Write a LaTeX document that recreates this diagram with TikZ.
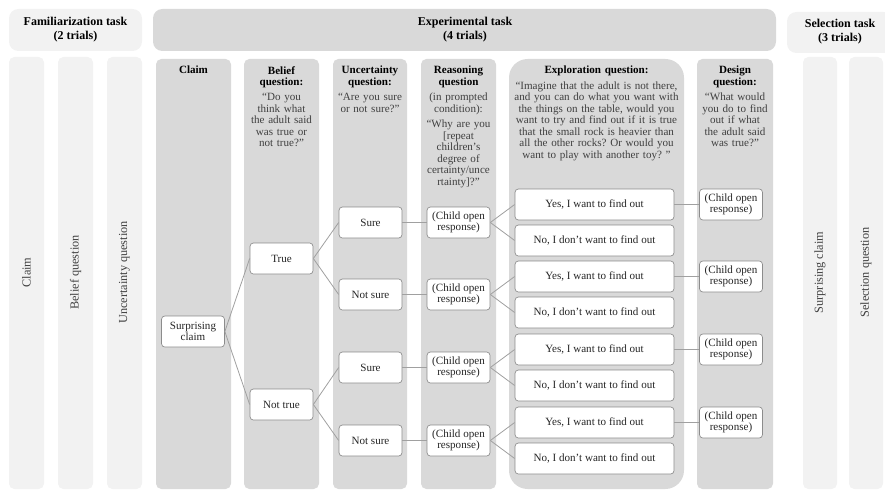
\documentclass[tikz,border=0pt]{standalone}
\usepackage{fontspec}
\setmainfont{Liberation Serif}
\usetikzlibrary{positioning}
\frenchspacing

\definecolor{lightpanel}{HTML}{F2F2F2}
\definecolor{darkpanel}{HTML}{D9D9D9}
\definecolor{boxline}{HTML}{8C8C8C}
\definecolor{linkline}{HTML}{A0A0A0}
\definecolor{quotetext}{HTML}{404040}

\tikzset{
  lightcol/.style={fill=lightpanel, rounded corners=4pt},
  darkcol/.style={fill=darkpanel, rounded corners=4pt},
  taskhead/.style={align=center, inner sep=0pt, font=\bfseries\fontsize{9}{10.5}\selectfont},
  coltext/.style={anchor=north, inner sep=0pt, align=center, text width=#1,
    font=\fontsize{8.3}{8.6}\selectfont},
  sidelabel/.style={rotate=90, inner sep=0pt, text=quotetext, font=\fontsize{9.2}{10}\selectfont},
  answer/.style={draw=boxline, fill=white, rounded corners=2.5pt, line width=0.5pt,
    minimum width=47.25pt, minimum height=23.25pt, align=center, inner sep=1pt,
    text=black!85, font=\fontsize{8.3}{8.2}\selectfont},
  wideanswer/.style={answer, minimum width=119.25pt},
  link/.style={draw=linkline, line width=0.6pt},
}

\begin{document}
\begin{tikzpicture}[x=0.75pt, y=-0.75pt]
        \useasboundingbox (0,0) rectangle (885,492);

        % Task headers
        \fill[lightpanel, rounded corners=7pt] (9,9) rectangle (142,51);
        \fill[darkpanel, rounded corners=7pt] (153,9) rectangle (776,51);
        \fill[lightpanel, rounded corners=7pt] (787,12) rectangle (893,53);
        \node[taskhead] (famhead) at (75.5,30) {Familiarization task\\(2 trials)};
        \node[taskhead] (exphead) at (465,30) {Experimental task\\(4 trials)};
        \node[taskhead] (selhead) at (840,32) {Selection task\\(3 trials)};

        % Familiarization and selection columns
        \fill[lightcol] (9,57) rectangle (44,489);
        \fill[lightcol] (58,57) rectangle (93,489);
        \fill[lightcol] (107,57) rectangle (142,489);
        \fill[lightcol] (803,57) rectangle (837,489);
        \fill[lightcol] (849,57) rectangle (883,489);
        \node[sidelabel] (famclaim) at (26.5,272.5) {Claim};
        \node[sidelabel] (fambelief) at (75.5,272.5) {Belief question};
        \node[sidelabel] (famuncert) at (124.5,272.5) {Uncertainty question};
        \node[sidelabel] (selclaim) at (820,272.5) {Surprising claim};
        \node[sidelabel] (selquest) at (866,272.5) {Selection question};

        % Experimental columns
        \fill[darkcol] (156,59) rectangle (231,489);
        \fill[darkcol] (244,59) rectangle (319,489);
        \fill[darkcol] (333,59) rectangle (407,489);
        \fill[darkcol] (421,59) rectangle (496,489);
        \fill[darkpanel, rounded corners=14pt] (509,59) rectangle (684,489);
        \fill[darkcol] (697,59) rectangle (773,489);

        % Column texts
        \node[coltext=54pt] (claimtxt) at (193.5,66) {\textbf{Claim}};
        \node[coltext=56pt] (belieftxt) at (281.5,66) {\textbf{Belief}\\\textbf{question:}\\[3pt]
          \color{quotetext}“Do you\\think what\\the adult said\\was true or\\not true?”};
        \node[coltext=56pt] (uncerttxt) at (370,66) {\textbf{Uncertainty}\\\textbf{question:}\\[3pt]
          \color{quotetext}“Are you sure\\or not sure?”};
        \node[coltext=56pt] (reasontxt) at (458.5,66) {\textbf{Reasoning}\\\textbf{question}\\[3pt]
          \color{quotetext}(in prompted\\condition):\\[3pt]“Why are you\\{[}repeat\\children’s\\degree of\\certainty/unce\\rtainty]?”};
        \node[coltext=130pt] (exploretxt) at (596.5,66) {\textbf{Exploration question:}\\[3pt]
          \color{quotetext}“Imagine that the adult is not there,\\and you can do what you want with\\the things on the table, would you\\want to try and find out if it is true\\that the small rock is heavier than\\all the other rocks? Or would you\\want to play with another toy? ”};
        \node[coltext=57pt] (designtxt) at (735,66) {\textbf{Design}\\\textbf{question:}\\[3pt]
          \color{quotetext}“What would\\you do to find\\out if what\\the adult said\\was true?”};

        % Claim and belief
        \node[answer] (claim) at (193,331.5) {Surprising\\claim};
        \node[answer] (true) at (281.5,258.5) {True};
        \node[answer] (nottrue) at (281.5,404.5) {Not true};
        \draw[link] (claim.east) -- (true.west);
        \draw[link] (claim.east) -- (nottrue.west);

        % Certainty, reasoning, exploration and design branches
        \foreach \n/\ans/\yy in {1/Sure/222.5, 2/Not sure/294.5, 3/Sure/367.5, 4/Not sure/440.5} {
          \node[answer] (cert\n) at (370.5,\yy) {\ans};
          \node[answer] (open\n) at (458.5,\yy) {(Child open\\response)};
          \node[wideanswer] (yes\n) at (594.5,\yy-18) {Yes, I want to find out};
          \node[wideanswer] (no\n) at (594.5,\yy+18) {No, I don’t want to find out};
          \node[answer] (design\n) at (731,\yy-18) {(Child open\\response)};
          \draw[link] (cert\n.east) -- (open\n.west);
          \draw[link] (open\n.east) -- (yes\n.west);
          \draw[link] (open\n.east) -- (no\n.west);
          \draw[link] (yes\n.east) -- (design\n.west);
        }
        \draw[link] (true.east) -- (cert1.west);
        \draw[link] (true.east) -- (cert2.west);
        \draw[link] (nottrue.east) -- (cert3.west);
        \draw[link] (nottrue.east) -- (cert4.west);
    \end{tikzpicture}
\end{document}
